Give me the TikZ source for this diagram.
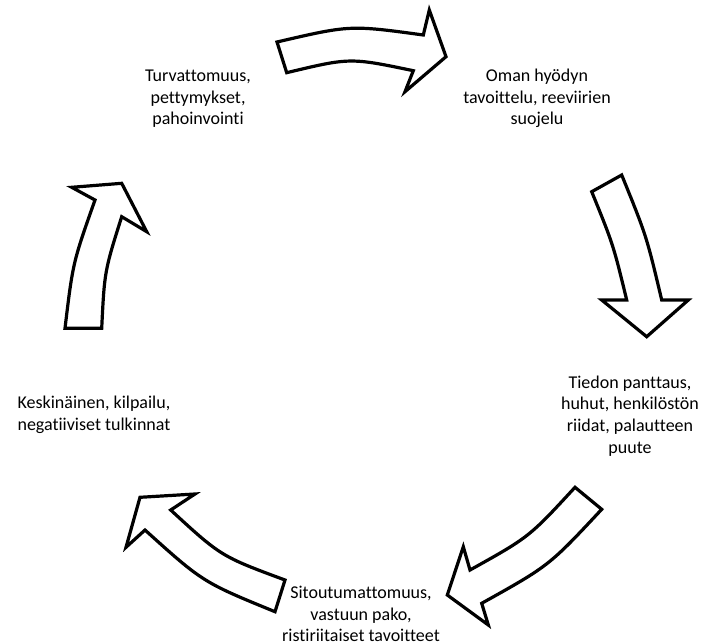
\documentclass[tikz,border=0pt]{standalone}
\usepackage{fontspec}
\setmainfont{Carlito}[Ligatures={NoCommon}]
\begin{document}
\begin{tikzpicture}[x=1pt,y=-1pt,
  blockarrow/.style={draw=black,fill=white,line width=3.2pt,line join=miter},
  label/.style={align=center,inner sep=0pt,font=\fontsize{18}{21.7}\selectfont}]
\useasboundingbox[fill=white] (0,0) rectangle (708,642);
% arrow 1 (top)
\draw[blockarrow] (277,42) .. controls (350,25) .. (423.3,35) -- (429.3,10) -- (446,56.7)
  -- (405,91.7) -- (413.3,70.7) .. controls (350,57.5) .. (286.7,72.7) -- cycle;
% arrow 2 (right)
\draw[blockarrow] (591.7,191.7) -- (621.7,175) .. controls (646.5,236) .. (661.7,300)
  -- (688.3,300) -- (646.7,336.7) -- (601.7,300) -- (626.7,300)
  .. controls (613.2,244.5) .. cycle;
% arrow 3 (bottom right)
\draw[blockarrow] (575,487.3) -- (601.7,509.3) .. controls (549.1,565.7) .. (481.7,603.3)
  -- (488.3,625) -- (447.3,595) -- (463.3,546.7) -- (470,570)
  .. controls (529.1,537.1) .. cycle;
% arrow 4 (bottom left)
\draw[blockarrow] (285,580) .. controls (221,556.3) .. (170.7,510) -- (195,494)
  -- (140,497.3) -- (126,547.3) -- (145,530) .. controls (202.9,582.2) .. (275,611.7) -- cycle;
% arrow 5 (left)
\draw[blockarrow] (65,328.3) .. controls (72.9,262.5) .. (95,200) -- (71.7,187.3)
  -- (121.7,183.3) -- (146.7,231.7) -- (121.7,216.7) .. controls (104.5,271.2) .. (101.7,328.3) -- cycle;
% labels
\node[label] (t1) at (198,98.8) {Turvattomuus,\\pettymykset,\\pahoinvointi};
\node[label] (t2) at (537,98.5) {Oman hyödyn\\tavoittelu, reeviirien\\suojelu};
\node[label] (t3) at (630,416) {Tiedon panttaus,\\huhut, henkilöstön\\riidat, palautteen\\puute};
\node[label] (t4) at (94,415) {Keskinäinen, kilpailu,\\negatiiviset tulkinnat};
\node[label] (t5) at (361,614) {Sitoutumattomuus,\\vastuun pako,\\ristiriitaiset tavoitteet};
\end{tikzpicture}
\end{document}
